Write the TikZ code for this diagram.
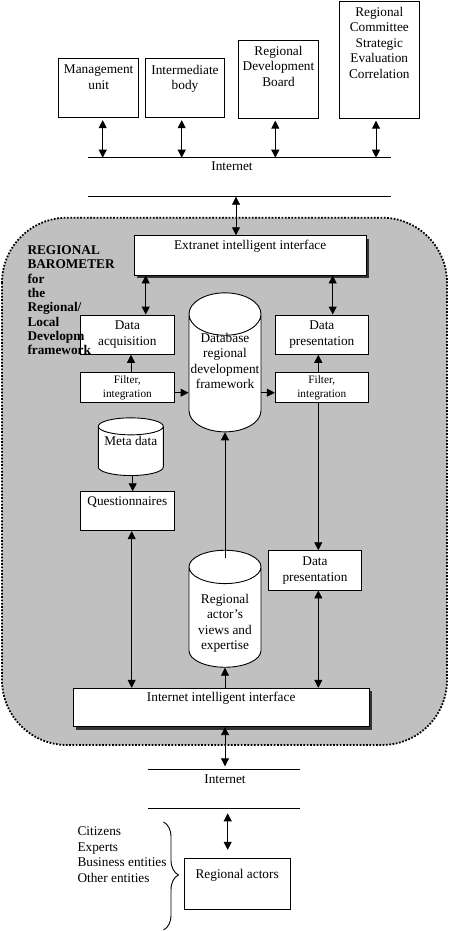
\documentclass[tikz,border=0pt]{standalone}
\usepackage{fontspec}
\setmainfont{Liberation Serif}
\usetikzlibrary{arrows.meta,shapes.geometric,shadows,decorations.pathreplacing}
\definecolor{barogray}{RGB}{192,192,192}
\definecolor{shadowgray}{RGB}{51,51,51}
\newcommand{\storesize}[1]{\phantom{\begin{tabular}{@{}c@{}}#1\end{tabular}}}
\tikzset{
  unitbox/.style={draw, fill=white, line width=0.9pt, inner sep=2pt, align=center},
  shadowbox/.style={unitbox, drop shadow={shadow xshift=3pt, shadow yshift=-3pt, fill=shadowgray, opacity=1}},
  toptext/.style={anchor=north, align=center, inner sep=0pt, yshift=-#1},
  toptext/.default=6pt,
  datastore/.style={draw, fill=white, line width=0.9pt, cylinder, shape border rotate=90, align=center, inner sep=1pt, anchor=south},
  link/.style={line width=0.9pt, -{Triangle[length=8pt,width=8pt]}},
  dlink/.style={line width=0.9pt, {Triangle[length=8pt,width=8pt]}-{Triangle[length=8pt,width=8pt]}},
  netline/.style={line width=0.9pt},
}
\begin{document}
\begin{tikzpicture}[x=1pt,y=-1pt,font=\fontsize{13.3}{15.5}\selectfont]
    \useasboundingbox (0,0) rectangle (449,931);
    %% Barometer region
    \draw[fill=barogray, line width=1.8pt, dash pattern=on 1.7pt off 1.6pt, rounded corners=65pt] (2,217.7) rectangle (447,745);
    %% Users
    \node[unitbox, minimum width=80pt, minimum height=59.4pt, label={[toptext=7pt]north:{Management\\unit}}] (mgmt) at (98.7,88) {};
    \node[unitbox, minimum width=79.4pt, minimum height=59.4pt, label={[toptext=7pt]north:{Intermediate\\body}}] (inter) at (185,88) {};
    \node[unitbox, minimum width=79.6pt, minimum height=78.4pt, label={[toptext=6pt]north:{Regional\\Development\\Board}}] (board) at (278.5,79.5) {};
    \node[unitbox, minimum width=80pt, minimum height=117.7pt, label={[toptext=6pt]north:{Regional\\Committee\\Strategic\\Evaluation\\Correlation}}] (cmte) at (379.3,59.9) {};
    %% Internet (top)
    \coordinate (netA) at (87.7,157.7);
    \coordinate (netB) at (390.7,157.7);
    \coordinate (netC) at (87.7,196.7);
    \coordinate (netD) at (390.7,196.7);
    \draw[netline] (netA) -- (netB);
    \draw[netline] (netC) -- (netD);
    \node (net1) at (232,166.7) {Internet};
    \coordinate (u1) at (102.7,157.7);
    \coordinate (u2) at (181.7,157.7);
    \coordinate (u3) at (275.3,157.7);
    \coordinate (u4) at (376,157.7);
    \draw[dlink, shorten <=2pt] (u1 |- mgmt.south) -- (u1);
    \draw[dlink, shorten <=2pt] (u2 |- inter.south) -- (u2);
    \draw[dlink, shorten <=1.5pt] (u3 |- board.south) -- (u3);
    \draw[dlink, shorten <=1.5pt] (u4 |- cmte.south) -- (u4);
    %% Extranet interface
    \node[shadowbox, minimum width=231.7pt, minimum height=39.3pt, label={[toptext=4.5pt]north:Extranet intelligent interface}] (extra) at (250.15,255.35) {};
    \coordinate (e0) at (236,196.7);
    \draw[dlink] (e0) -- (e0 |- extra.north);
    %% Acquisition / presentation
    \node[unitbox, minimum width=93.3pt, minimum height=39.3pt] (dacq) at (127.35,334.65) {Data\\acquisition};
    \node[unitbox, minimum width=93pt, minimum height=39.3pt] (dpres) at (321.8,334.65) {Data\\presentation};
    \node[unitbox, minimum width=93.3pt, minimum height=29.6pt, font=\fontsize{11.3}{14}\selectfont] (filtL) at (127.35,387.5) {Filter,\\integration};
    \node[unitbox, minimum width=93pt, minimum height=29.6pt, font=\fontsize{11.3}{14}\selectfont] (filtR) at (321.8,387.5) {Filter,\\integration};
    \coordinate (xA) at (145.7,0);
    \coordinate (xB) at (332.7,0);
    \coordinate (xC) at (131,0);
    \coordinate (xD) at (318.3,0);
    \coordinate (hy) at (0,392.7);
    \draw[dlink] (xA |- extra.south) -- (xA |- dacq.north);
    \draw[dlink] (xB |- extra.south) -- (xB |- dpres.north);
    \draw[link] (xC |- filtL.north) -- (xC |- dacq.south);
    \draw[link] (xD |- filtR.north) -- (xD |- dpres.south);
    %% Barometer title, over the boxes
    \node[anchor=north west, align=left, inner sep=0pt, font=\fontsize{13.3}{14.3}\selectfont\bfseries] (baro) at (27.3,245.6) {REGIONAL\\BAROMETER\\for\\the\\Regional/\\Local\\Developm\\framework};
    %% Databases
    \node[datastore, minimum width=72pt, minimum height=139pt, aspect=0.6, label={[toptext=40.5pt]north:{Database\\regional\\development\\framework}}] (db) at (225,432.3) {\storesize{Database\\regional\\development\\framework}};
    \node[datastore, minimum width=65pt, minimum height=57.7pt, aspect=0.31, label={[toptext=19pt]north:Meta data}] (meta) at (130.8,476) {\storesize{Meta data}};
    \node[datastore, minimum width=72pt, minimum height=117pt, aspect=0.6, label={[toptext=44pt]north:{Regional\\actor’s\\views and\\expertise}}] (ract) at (225,667.7) {\storesize{Regional\\actor’s\\views and\\expertise}};
    \draw[link] (filtL.east |- hy) -- (db.west |- hy);
    \draw[link] (db.east |- hy) -- (filtR.west |- hy);
    %% Questionnaires
    \node[unitbox, minimum width=93.3pt, minimum height=39pt, label={[toptext=5.5pt]north:Questionnaires}] (quest) at (127.35,511.2) {};
    \coordinate (xF) at (132.7,0);
    \coordinate (xG) at (131.7,0);
    \draw[link] (xF |- meta.south) -- (xF |- quest.north);
    %% Lower presentation
    \node[unitbox, minimum width=93.4pt, minimum height=39.3pt] (dpres2) at (315,570.35) {Data\\presentation};
    \draw[line width=0.6pt, -{Triangle[length=8pt,width=8pt]}] (xD |- filtR.south) -- (xD |- dpres2.north);
    %% Internet interface
    \node[shadowbox, minimum width=295.7pt, minimum height=38.4pt, label={[toptext=4pt]north:Internet intelligent interface}] (iface) at (221.15,707.5) {};
    \coordinate (ractTop) at (225,558.3);
    \draw[link] (ractTop) -- (db.south);
    \draw[link] (ract.south |- iface.north) -- (ract.south);
    \draw[dlink] (xG |- quest.south) -- (xG |- iface.north);
    \draw[dlink] (xD |- dpres2.south) -- (xD |- iface.north);
    %% Internet (bottom)
    \coordinate (netE) at (148.3,769.3);
    \coordinate (netF) at (300,769.3);
    \coordinate (netG) at (148.3,808.3);
    \coordinate (netH) at (300,808.3);
    \draw[netline] (netE) -- (netF);
    \draw[netline] (netG) -- (netH);
    \node (net2) at (225,779) {Internet};
    \coordinate (xE) at (225,0);
    \coordinate (xH) at (227.7,0);
    \draw[dlink, shorten >=3pt] (xE |- iface.south) -- (xE |- netE);
    %% Regional actors
    \node[unitbox, minimum width=105.7pt, minimum height=51pt, label={[toptext=11pt]north:Regional actors}] (ractors) at (237.15,883.8) {};
    \draw[dlink, shorten <=5pt, shorten >=8pt] (xH |- netG) -- (xH |- ractors.north);
    \node[anchor=north west, align=left, inner sep=0pt] (who) at (77.3,826.6) {Citizens\\Experts\\Business entities\\Other entities};
    \draw[line width=0.9pt, decorate, decoration={brace, amplitude=15pt, aspect=0.49}] (163.5,822) -- (163.5,930);
\end{tikzpicture}
\end{document}
